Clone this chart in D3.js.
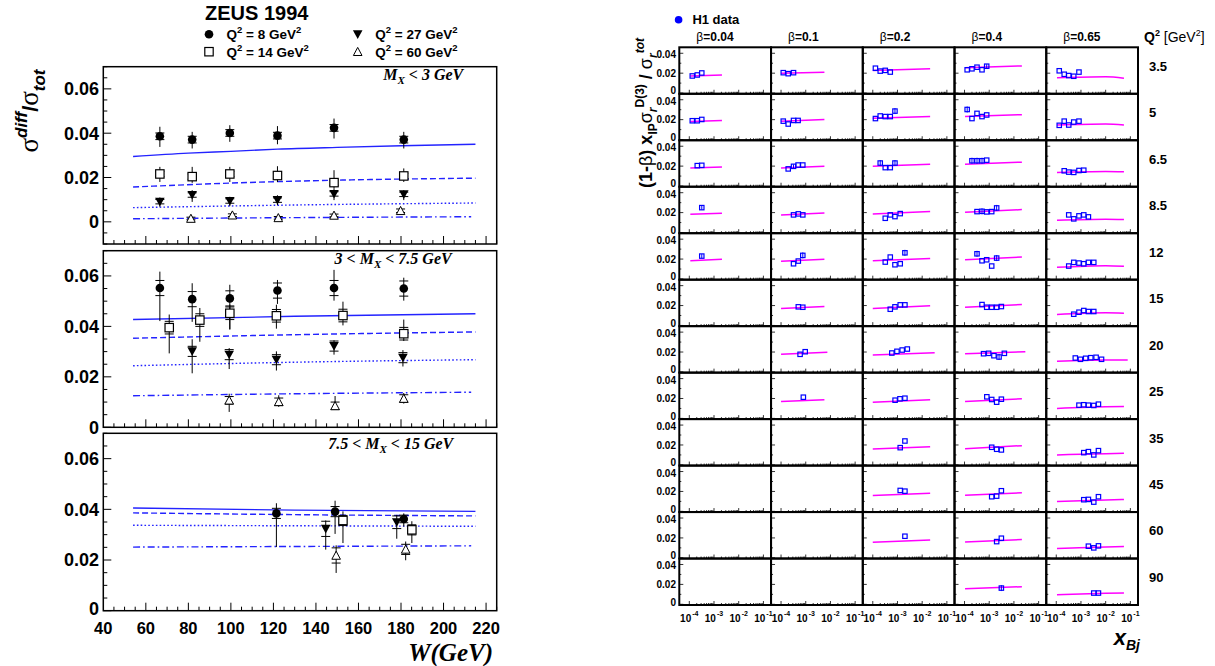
<!DOCTYPE html>
<html><head><meta charset="utf-8">
<script src="https://cdn.jsdelivr.net/npm/d3@7"></script>
<style>body{margin:0;background:#fff} svg{display:block}</style>
</head><body>
<svg id="c" width="1215" height="666"></svg>
<script>
// ================= DATA (left: ZEUS 1994) =================
const wTicks = [40,60,80,100,120,140,160,180,200,220];
const yTicksLeft = [0,0.02,0.04,0.06];
const q2Legend = ["8","14","27","60"];
const panelLabelPre = ["", "3 < ", "7.5 < "];
const panelLabelPost = [" < 3 GeV", " < 7.5 GeV", " < 15 GeV"];
// [W, value, statErr, totalLow, totalHigh]
const p1_q8  = [[66.6,0.0386,0.0015,0.0338,0.0429],[81.8,0.0371,0.0015,0.0331,0.0406],[99.5,0.0401,0.0015,0.0361,0.0436],[121.9,0.0389,0.0015,0.0350,0.0432],[148.5,0.0424,0.0015,0.0376,0.0466],[181.3,0.0371,0.0015,0.0331,0.0406]];
const p1_q14 = [[66.6,0.0216,0.0012,0.0180,0.0248],[81.8,0.0204,0.0012,0.0176,0.0248],[99.5,0.0216,0.0012,0.0180,0.0248],[121.9,0.0209,0.0012,0.0180,0.0251],[148.5,0.0177,0.0012,0.0150,0.0233],[181.3,0.0207,0.0012,0.0180,0.0241]];
const p1_q27 = [[66.6,0.0091,0.0010,0.0068,0.0110],[81.8,0.0121,0.0010,0.0090,0.0143],[99.5,0.0094,0.0010,0.0071,0.0113],[121.9,0.0098,0.0010,0.0075,0.0120],[148.5,0.0126,0.0010,0.0098,0.0150],[181.3,0.0124,0.0010,0.0098,0.0143]];
const p1_q60 = [[81.2,0.0015,0.0006,0.0008,0.0022],[100.7,0.0030,0.0006,0.0022,0.0038],[122.3,0.0018,0.0006,0.0010,0.0026],[148.5,0.0029,0.0006,0.0021,0.0037],[179.8,0.0050,0.0008,0.0038,0.0068]];
const p2_q8  = [[66.6,0.0552,0.003,0.0421,0.0617],[81.8,0.0508,0.003,0.0418,0.0571],[99.5,0.0511,0.003,0.0388,0.0565],[121.9,0.0542,0.003,0.0489,0.0584],[148.5,0.0552,0.003,0.0502,0.0624],[181.3,0.0550,0.003,0.0502,0.0593]];
const p2_q14 = [[71.0,0.0395,0.0025,0.0293,0.0447],[85.4,0.0425,0.0025,0.0339,0.0473],[99.5,0.0452,0.0025,0.0388,0.0486],[121.4,0.0442,0.0025,0.0391,0.0486],[152.7,0.0443,0.0025,0.0404,0.0498],[181.3,0.0371,0.0025,0.0342,0.0427]];
const p2_q27 = [[81.8,0.0301,0.002,0.0214,0.0349],[99.2,0.0288,0.002,0.0231,0.0314],[121.4,0.0268,0.002,0.0225,0.0301],[148.5,0.0322,0.002,0.0288,0.0345],[180.9,0.0276,0.002,0.0241,0.0306]];
const p2_q60 = [[99.2,0.0107,0.0015,0.0061,0.0133],[122.5,0.0101,0.0015,0.0081,0.0127],[149.0,0.0085,0.0015,0.0071,0.0124],[181.3,0.0114,0.0015,0.0094,0.0136]];
const p3_q8  = [[121.4,0.0384,0.002,0.0251,0.0424],[149.0,0.0391,0.002,0.0303,0.0434],[181.3,0.0362,0.0015,0.0332,0.0384]];
const p3_q14 = [[152.7,0.0356,0.002,0.0267,0.0392],[185.1,0.0319,0.002,0.0267,0.0353]];
const p3_q27 = [[144.6,0.0323,0.003,0.0241,0.0356],[178.0,0.0349,0.0025,0.0284,0.0378]];
const p3_q60 = [[149.5,0.0218,0.003,0.0149,0.0258],[182.2,0.0242,0.002,0.0199,0.0273]];
// model curves [W, value]
const p1_solid = [[54,0.0295],[80,0.0310],[100,0.0318],[122,0.0328],[150,0.0336],[180,0.0343],[215,0.0350]];
const p1_dash  = [[54,0.0157],[100,0.0175],[150,0.0188],[215,0.0197]];
const p1_dot   = [[54,0.0064],[130,0.0076],[215,0.0085]];
const p1_dashdot = [[54,0.0014],[130,0.0019],[213,0.0023]];
const p2_solid = [[54,0.0427],[130,0.0440],[215,0.0450]];
const p2_dash  = [[54,0.0353],[130,0.0367],[215,0.0378]];
const p2_dot   = [[54,0.0244],[130,0.0258],[215,0.0268]];
const p2_dashdot = [[54,0.0125],[130,0.0133],[213,0.0139]];
const p3_solid = [[54,0.0405],[130,0.0397],[215,0.0392]];
const p3_dash  = [[54,0.0386],[130,0.0379],[215,0.0374]];
const p3_dot   = [[54,0.0337],[215,0.0333]];
const p3_dashdot = [[54,0.0251],[213,0.0256]];

// ================= DATA (right: H1 grid) =================
const q2Labels = ["3.5","5","6.5","8.5","12","15","20","25","35","45","60","90"];
const betaLabels = ["0.04","0.1","0.2","0.4","0.65"];
const xDecades = [-4,-3,-2,-1];
const yTicksRight = [0,0.02,0.04];
// [Q2 row, beta column, xBj, value, error]
const h1Points = [
 [0,0,1.32e-4,0.0172],[0,0,2.1e-4,0.0182],[0,0,3.2e-4,0.0202],
 [0,1,1.23e-4,0.0205],[0,1,1.95e-4,0.0195],[0,1,3.2e-4,0.0205],
 [0,2,1.28e-4,0.0250],[0,2,2.0e-4,0.0221],[0,2,3.2e-4,0.0228],[0,2,5.1e-4,0.0211],
 [0,3,1.28e-4,0.0234],[0,3,2.0e-4,0.0244],[0,3,3.2e-4,0.0260],[0,3,5.1e-4,0.0234],[0,3,7.9e-4,0.0270,0.002],
 [0,4,1.32e-4,0.0224],[0,4,2.1e-4,0.0189],[0,4,3.2e-4,0.0176],[0,4,5.1e-4,0.0169],[0,4,8.3e-4,0.0211],
 [1,0,1.32e-4,0.0189],[1,0,2.1e-4,0.0189],[1,0,3.2e-4,0.0202],
 [1,1,1.23e-4,0.0185],[1,1,1.95e-4,0.0156],[1,1,3.2e-4,0.0192],[1,1,4.9e-4,0.0192],
 [1,2,1.28e-4,0.0211],[1,2,2.0e-4,0.0237],[1,2,3.2e-4,0.0231],[1,2,5.1e-4,0.0231],[1,2,7.9e-4,0.0286,0.003],
 [1,3,1.28e-4,0.0302,0.003],[1,3,2.0e-4,0.0211],[1,3,3.2e-4,0.0263],[1,3,5.1e-4,0.0231],[1,3,7.9e-4,0.0247],
 [1,4,1.32e-4,0.0143],[1,4,2.1e-4,0.0185],[1,4,3.2e-4,0.0146],[1,4,5.1e-4,0.0176],[1,4,8.3e-4,0.0185],
 [2,0,2.1e-4,0.0205],[2,0,3.2e-4,0.0208],
 [2,1,1.95e-4,0.0172],[2,1,3.2e-4,0.0198,0.002],[2,1,4.9e-4,0.0211],[2,1,7.6e-4,0.0211],
 [2,2,2.0e-4,0.0231,0.003],[2,2,3.2e-4,0.0185],[2,2,5.1e-4,0.0185],[2,2,7.9e-4,0.0231,0.003],
 [2,3,2.0e-4,0.0254,0.003],[2,3,3.2e-4,0.0254,0.003],[2,3,5.1e-4,0.0254,0.003],[2,3,7.9e-4,0.0260],
 [2,4,2.1e-4,0.0153],[2,4,3.2e-4,0.0140],[2,4,5.1e-4,0.0137],[2,4,8.3e-4,0.0156],[2,4,1.3e-3,0.0159],
 [3,0,3.2e-4,0.0250,0.002],
 [3,1,3.2e-4,0.0177],[3,1,5.0e-4,0.0187],[3,1,7.6e-4,0.0177],
 [3,2,3.2e-4,0.0143],[3,2,5.1e-4,0.0177],[3,2,7.9e-4,0.0160],[3,2,1.29e-3,0.0190],
 [3,3,3.2e-4,0.0210],[3,3,5.1e-4,0.0213,0.003],[3,3,7.9e-4,0.0207],[3,3,1.26e-3,0.0210],[3,3,2.0e-3,0.0247,0.003],
 [3,4,3.2e-4,0.0177],[3,4,5.1e-4,0.0137],[3,4,8.3e-4,0.0167],[3,4,1.3e-3,0.0177],[3,4,2.0e-3,0.0157],
 [4,0,3.2e-4,0.0230,0.002],
 [4,1,3.2e-4,0.0153],[4,1,5.0e-4,0.0180],[4,1,7.6e-4,0.0237,0.003],
 [4,2,3.2e-4,0.0170],[4,2,5.1e-4,0.0220],[4,2,7.9e-4,0.0143],[4,2,1.29e-3,0.0153],[4,2,2.0e-3,0.0263,0.003],
 [4,3,3.2e-4,0.0253,0.003],[4,3,5.1e-4,0.0183],[4,3,7.9e-4,0.0193],[4,3,1.26e-3,0.0130],[4,3,2.0e-3,0.0210,0.003],
 [4,4,3.2e-4,0.0130],[4,4,5.1e-4,0.0167],[4,4,8.3e-4,0.0160],[4,4,1.3e-3,0.0153],[4,4,2.0e-3,0.0167],[4,4,3.3e-3,0.0167],
 [5,1,5.0e-4,0.0187],[5,1,7.6e-4,0.0183],
 [5,2,5.1e-4,0.0163],[5,2,7.9e-4,0.0187],[5,2,1.29e-3,0.0207],[5,2,2.0e-3,0.0207],
 [5,3,5.1e-4,0.0210],[5,3,7.9e-4,0.0183],[5,3,1.26e-3,0.0183],[5,3,2.0e-3,0.0183],[5,3,3.1e-3,0.0190],
 [5,4,5.1e-4,0.0113],[5,4,8.3e-4,0.0133],[5,4,1.3e-3,0.0150],[5,4,2.0e-3,0.0140],[5,4,3.3e-3,0.0140],
 [6,1,5.9e-4,0.0177],[6,1,9.5e-4,0.0203],
 [6,2,5.9e-4,0.0190],[6,2,9.5e-4,0.0207],[6,2,1.55e-3,0.0220],[6,2,2.5e-3,0.0230],
 [6,3,5.9e-4,0.0183],[6,3,9.5e-4,0.0187],[6,3,1.55e-3,0.0163],[6,3,2.5e-3,0.0150,0.003],[6,3,4.1e-3,0.0187],
 [6,4,5.9e-4,0.0140],[6,4,9.5e-4,0.0127],[6,4,1.55e-3,0.0137],[6,4,2.5e-3,0.0143],[6,4,4.1e-3,0.0147],[6,4,6.8e-3,0.0127],
 [7,1,8.0e-4,0.0213],
 [7,2,8.0e-4,0.0183],[7,2,1.26e-3,0.0197],[7,2,2.0e-3,0.0203],
 [7,3,8.0e-4,0.0217],[7,3,1.26e-3,0.0190],[7,3,2.0e-3,0.0163],[7,3,3.1e-3,0.0193],
 [7,4,8.3e-4,0.0133],[7,4,1.3e-3,0.0137],[7,4,2.0e-3,0.0133],[7,4,3.3e-3,0.0130],[7,4,5.1e-3,0.0143],
 [8,2,1.29e-3,0.0173],[8,2,2.0e-3,0.0240],
 [8,3,1.26e-3,0.0177],[8,3,2.0e-3,0.0157],[8,3,3.1e-3,0.0150],
 [8,4,1.3e-3,0.0123],[8,4,2.0e-3,0.0133],[8,4,3.3e-3,0.0100],[8,4,5.1e-3,0.0143],
 [9,2,1.29e-3,0.0210],[9,2,2.0e-3,0.0203],
 [9,3,1.26e-3,0.0147],[9,3,2.0e-3,0.0153],[9,3,3.1e-3,0.0207],
 [9,4,1.3e-3,0.0117],[9,4,2.0e-3,0.0120],[9,4,3.3e-3,0.0093],[9,4,5.1e-3,0.0147],
 [10,2,2.0e-3,0.0217],
 [10,3,2.0e-3,0.0163],[10,3,3.1e-3,0.0197],
 [10,4,2.0e-3,0.0117],[10,4,3.3e-3,0.0100],[10,4,5.1e-3,0.0120],
 [11,3,3.1e-3,0.0163,0.003],
 [11,4,3.3e-3,0.0113],[11,4,5.1e-3,0.0113]
];
// [Q2 row, beta column, [[xBj, value], ...]]
const h1Model = [
 [0,0,[[1.1e-4,0.0172],[2.1e-3,0.0182]]],[0,1,[[1.0e-4,0.0199],[5.7e-3,0.0210]]],[0,2,[[1.0e-4,0.0228],[2.1e-2,0.0244]]],[0,3,[[1.05e-4,0.0254],[2.1e-2,0.0273]]],[0,4,[[1.07e-4,0.0153],[1e-2,0.0163],[5.5e-2,0.0150]]],
 [1,0,[[1.1e-4,0.0182],[2.1e-3,0.0192]]],[1,1,[[1.0e-4,0.0185],[5.7e-3,0.0202]]],[1,2,[[1.0e-4,0.0215],[2.1e-2,0.0231]]],[1,3,[[1.05e-4,0.0231],[2.1e-2,0.0250]]],[1,4,[[1.07e-4,0.0146],[1e-2,0.0156],[5.5e-2,0.0146]]],
 [2,0,[[1.1e-4,0.0182],[2.1e-3,0.0192]]],[2,1,[[1.0e-4,0.0182],[5.7e-3,0.0198]]],[2,2,[[1.0e-4,0.0198],[2.1e-2,0.0218]]],[2,3,[[1.05e-4,0.0218],[2.1e-2,0.0240]]],[2,4,[[1.07e-4,0.0137],[1e-2,0.0146],[5.5e-2,0.0143]]],
 [3,0,[[1.1e-4,0.0183],[2.1e-3,0.0193]]],[3,1,[[1.0e-4,0.0177],[5.7e-3,0.0197]]],[3,2,[[1.0e-4,0.0187],[2.1e-2,0.0210]]],[3,3,[[1.05e-4,0.0203],[2.1e-2,0.0230]]],[3,4,[[1.07e-4,0.0123],[1e-2,0.0133],[5.5e-2,0.0130]]],
 [4,0,[[1.1e-4,0.0183],[2.1e-3,0.0197]]],[4,1,[[1.0e-4,0.0177],[5.7e-3,0.0197]]],[4,2,[[1.0e-4,0.0183],[2.1e-2,0.0207]]],[4,3,[[1.05e-4,0.0193],[2.1e-2,0.0220]]],[4,4,[[1.07e-4,0.0117],[1e-2,0.0133],[5.5e-2,0.0127]]],
 [5,1,[[1.0e-4,0.0170],[5.7e-3,0.0190]]],[5,2,[[1.0e-4,0.0170],[2.1e-2,0.0197]]],[5,3,[[1.05e-4,0.0183],[2.1e-2,0.0210]]],[5,4,[[1.07e-4,0.0110],[1e-2,0.0127],[5.5e-2,0.0123]]],
 [6,1,[[1.0e-4,0.0177],[7.5e-3,0.0197]]],[6,2,[[1.0e-4,0.0170],[3.2e-2,0.0193]]],[6,3,[[1.05e-4,0.0183],[2.9e-2,0.0203]]],[6,4,[[1.07e-4,0.0107],[1e-2,0.0120],[7.8e-2,0.0120]]],
 [7,1,[[1.0e-4,0.0170],[5.7e-3,0.0187]]],[7,2,[[1.0e-4,0.0163],[2.1e-2,0.0187]]],[7,3,[[1.05e-4,0.0170],[2.1e-2,0.0197]]],[7,4,[[1.07e-4,0.0100],[1e-2,0.0117],[5.5e-2,0.0120]]],
 [8,2,[[1.0e-4,0.0160],[2.1e-2,0.0183]]],[8,3,[[1.05e-4,0.0163],[2.1e-2,0.0193]]],[8,4,[[1.07e-4,0.0100],[1e-2,0.0113],[5.5e-2,0.0117]]],
 [9,2,[[1.0e-4,0.0160],[2.1e-2,0.0183]]],[9,3,[[1.05e-4,0.0163],[2.1e-2,0.0187]]],[9,4,[[1.07e-4,0.0100],[1e-2,0.0113],[5.5e-2,0.0120]]],
 [10,2,[[1.0e-4,0.0157],[2.1e-2,0.0180]]],[10,3,[[1.05e-4,0.0160],[2.1e-2,0.0183]]],[10,4,[[1.07e-4,0.0093],[1e-2,0.0110],[5.5e-2,0.0113]]],
 [11,3,[[1.05e-4,0.0157],[2.1e-2,0.0177]]],[11,4,[[1.07e-4,0.0097],[1e-2,0.0110],[5.5e-2,0.0113]]]
];

// ================= DRAWING =================
const svg = d3.select("#c");
const SANS = "'Liberation Sans', Arial, Helvetica, sans-serif";
const SERIF = "'Liberation Serif', 'Times New Roman', serif";
const BLUE = "#2323ff";

function marker(g, type, cx, cy) {
  if (type === 0) g.append("circle").attr("cx",cx).attr("cy",cy).attr("r",4.3).attr("fill","#000");
  else if (type === 1) g.append("rect").attr("x",cx-4.2).attr("y",cy-4.2).attr("width",8.4).attr("height",8.4)
      .attr("fill","#fff").attr("stroke","#000").attr("stroke-width",1.2);
  else if (type === 2) g.append("path").attr("d",`M${cx-4.8},${cy-4}L${cx+4.8},${cy-4}L${cx},${cy+4.6}Z`).attr("fill","#000");
  else g.append("path").attr("d",`M${cx-4.3},${cy+3.8}L${cx+4.3},${cy+3.8}L${cx},${cy-4.3}Z`)
      .attr("fill","#fff").attr("stroke","#000").attr("stroke-width",1);
}

// ---- left panels ----
const xL = d3.scaleLinear().domain([40,225]).range([103.3,496.7]);
const panels = [
  {top:66.7, bottom:244, dom:[-0.01,0.07], lx:463.3, ly:80,
   series:[p1_q8,p1_q14,p1_q27,p1_q60], models:[p1_solid,p1_dash,p1_dot,p1_dashdot]},
  {top:250.7, bottom:427.3, dom:[0,0.07], lx:451.7, ly:264.3,
   series:[p2_q8,p2_q14,p2_q27,p2_q60], models:[p2_solid,p2_dash,p2_dot,p2_dashdot]},
  {top:433.3, bottom:610.7, dom:[0,0.07], lx:453.3, ly:449.3,
   series:[p3_q8,p3_q14,p3_q27,p3_q60], models:[p3_solid,p3_dash,p3_dot,p3_dashdot]}
];
const dashes = [null, "6,3", "1.6,2.2", "7,3,1.6,3"];

panels.forEach((p, pi) => {
  const g = svg.append("g");
  const y = d3.scaleLinear().domain(p.dom).range([p.bottom, p.top]);
  d3.range(45, 226, 5).forEach(w => {
    const major = w % 20 === 0;
    g.append("line").attr("x1",xL(w)).attr("x2",xL(w)).attr("y1",p.bottom).attr("y2",p.bottom-(major?8:4))
      .attr("stroke","#000").attr("stroke-width",1);
  });
  d3.range(Math.round(p.dom[0]*200), Math.round(p.dom[1]*200)+1).map(k => k/200).forEach(v => {
    const major = Math.abs(Math.round(v*1000) % 20) === 0;
    g.append("line").attr("x1",xL.range()[0]).attr("x2",xL.range()[0]+(major?8:4)).attr("y1",y(v)).attr("y2",y(v))
      .attr("stroke","#000").attr("stroke-width",1);
  });
  yTicksLeft.forEach(v => {
    g.append("text").attr("x",99).attr("y",y(v)).attr("dy",(pi===2 && v===0) ? "0.25em" : "0.36em").attr("text-anchor","end")
      .attr("font-family",SANS).attr("font-weight","bold").attr("font-size",18).text(v===0?"0":v.toFixed(2));
  });
  p.models.forEach((m, mi) => {
    g.append("path").attr("d", d3.line().x(d=>xL(d[0])).y(d=>y(d[1])).curve(d3.curveMonotoneX)(m))
      .attr("fill","none").attr("stroke",BLUE).attr("stroke-width",1.4)
      .attr("stroke-dasharray",dashes[mi]);
  });
  p.series.forEach((s, si) => {
    s.forEach(d => {
      const cx = xL(d[0]);
      g.append("line").attr("x1",cx).attr("x2",cx).attr("y1",y(d[3])).attr("y2",y(d[4])).attr("stroke","#000").attr("stroke-width",1);
      [d[1]-d[2], d[1]+d[2]].forEach(v => g.append("line").attr("x1",cx-4.5).attr("x2",cx+4.5).attr("y1",y(v)).attr("y2",y(v))
        .attr("stroke","#000").attr("stroke-width",1));
    });
    s.forEach(d => marker(g, si, xL(d[0]), y(d[1])));
  });
  g.append("rect").attr("x",xL.range()[0]).attr("y",p.top).attr("width",xL.range()[1]-xL.range()[0]).attr("height",p.bottom-p.top)
    .attr("fill","none").attr("stroke","#000").attr("stroke-width",1.5);
  const t = g.append("text").attr("x",p.lx).attr("y",p.ly).attr("text-anchor","end")
    .attr("font-family",SERIF).attr("font-style","italic").attr("font-weight","bold").attr("font-size",16);
  t.append("tspan").text(panelLabelPre[pi] + "M");
  t.append("tspan").attr("dy",4).attr("font-size",11).text("X");
  t.append("tspan").attr("dy",-4).text(panelLabelPost[pi]);
  if (pi === 2) {
    wTicks.forEach(w => g.append("text").attr("x",xL(w)).attr("y",634).attr("text-anchor","middle")
      .attr("font-family",SANS).attr("font-weight","bold").attr("font-size",16.5).text(w));
  }
});

// left axis titles
{
  const t = svg.append("text").attr("transform","translate(38,111) rotate(-90)").attr("text-anchor","middle")
    .attr("font-family",SANS).attr("font-weight","bold").attr("font-size",27);
  t.append("tspan").attr("font-family",SERIF).attr("font-weight","normal").text("σ");
  t.append("tspan").attr("dy",-11).attr("font-size",17).attr("font-style","italic").text("diff");
  t.append("tspan").attr("dy",11).attr("font-size",22).text("/");
  t.append("tspan").attr("font-family",SERIF).attr("font-weight","normal").text("σ");
  t.append("tspan").attr("dy",7).attr("font-size",17).attr("font-style","italic").text("tot");
  svg.append("text").attr("x",493).attr("y",661).attr("text-anchor","end")
    .attr("font-family",SERIF).attr("font-style","italic").attr("font-weight","bold").attr("font-size",25).text("W(GeV)");
}
// left legend
{
  svg.append("text").attr("x",205).attr("y",20).attr("font-family",SANS).attr("font-weight","bold").attr("font-size",20).text("ZEUS 1994");
  const pos = [[209,34.3],[209,51.7],[357.7,34.3],[357.7,51.7]];
  q2Legend.forEach((q, i) => {
    marker(svg, i, pos[i][0], pos[i][1]);
    const t = svg.append("text").attr("x",pos[i][0]+17.5).attr("y",pos[i][1]+5)
      .attr("font-family",SANS).attr("font-weight","bold").attr("font-size",13.5);
    t.append("tspan").text("Q");
    t.append("tspan").attr("dy",-6).attr("font-size",9.5).text("2");
    t.append("tspan").attr("dy",6).text(" = " + q + " GeV");
    t.append("tspan").attr("dy",-6).attr("font-size",9.5).text("2");
  });
}

// ---- right grid ----
const gx0 = 679.3, gx1 = 1138, gy0 = 47.3, gy1 = 605;
const colW = (gx1-gx0)/betaLabels.length, rowH = (gy1-gy0)/q2Labels.length;
const xLogDom = [Math.pow(10,-4.405), Math.pow(10,-0.691)];
function cellScales(r, c) {
  const x0 = gx0 + c*colW, y0 = gy0 + r*rowH;
  return {
    x: d3.scaleLog().domain(xLogDom).range([x0, x0+colW]),
    y: d3.scaleLinear().domain([0,0.046]).range([y0+rowH-0.7, y0]),
    x0, y0
  };
}
const grid = svg.append("g");
q2Labels.forEach((q, r) => {
  betaLabels.forEach((b, c) => {
    const s = cellScales(r, c);
    xDecades.forEach(k => {
      for (let m = 1; m < 10; m++) {
        const v = m * Math.pow(10,k);
        if (v < xLogDom[0] || v > xLogDom[1]) continue;
        grid.append("line").attr("x1",s.x(v)).attr("x2",s.x(v)).attr("y1",s.y0+rowH).attr("y2",s.y0+rowH-(m===1?4:2))
          .attr("stroke","#000").attr("stroke-width",0.8);
      }
    });
    [0,0.01,0.02,0.03,0.04].forEach(v => {
      grid.append("line").attr("x1",s.x0).attr("x2",s.x0+(Math.round(v*100)%2===0?4:2)).attr("y1",s.y(v)).attr("y2",s.y(v))
        .attr("stroke","#000").attr("stroke-width",0.8);
    });
    if (c === 0) {
      yTicksRight.forEach(v => grid.append("text").attr("x",676).attr("y",s.y(v))
        .attr("dy", v===0 ? "0.12em" : (v===0.04 ? "0.5em" : "0.36em")).attr("text-anchor","end")
        .attr("font-family",SANS).attr("font-weight","bold").attr("font-size",10).text(v===0?"0":v.toFixed(2)));
    }
    if (r === q2Labels.length-1) {
      xDecades.forEach(k => {
        const t = grid.append("text").attr("x",s.x(Math.pow(10,k))).attr("y",622).attr("text-anchor","middle")
          .attr("font-family",SANS).attr("font-weight","bold").attr("font-size",10);
        t.append("tspan").text("10");
        t.append("tspan").attr("dy",-6).attr("dx",1).attr("font-size",7).text(String(k));
      });
    }
  });
});
h1Model.forEach(([r, c, pts]) => {
  const s = cellScales(r, c);
  grid.append("path").attr("d", d3.line().x(d=>s.x(d[0])).y(d=>s.y(d[1])).curve(d3.curveMonotoneX)(pts))
    .attr("fill","none").attr("stroke","#ff00ff").attr("stroke-width",1.5);
});
h1Points.forEach(([r, c, xv, yv, e]) => {
  const s = cellScales(r, c);
  const cx = s.x(xv), cy = s.y(yv);
  if (e) grid.append("line").attr("x1",cx).attr("x2",cx).attr("y1",s.y(yv-e)).attr("y2",s.y(yv+e)).attr("stroke","#0000ff").attr("stroke-width",1);
  grid.append("rect").attr("x",cx-2.2).attr("y",cy-2.2).attr("width",4.4).attr("height",4.4)
    .attr("fill","none").attr("stroke","#0000ff").attr("stroke-width",1.2);
});
q2Labels.forEach((q, r) => betaLabels.forEach((b, c) => {
  const s = cellScales(r, c);
  grid.append("rect").attr("x",s.x0).attr("y",s.y0).attr("width",colW).attr("height",rowH)
    .attr("fill","none").attr("stroke","#000").attr("stroke-width",2);
}));
betaLabels.forEach((b, c) => {
  const t = svg.append("text").attr("x",gx0 + c*colW + 17).attr("y",41).attr("font-family",SANS).attr("font-weight","bold").attr("font-size",12);
  t.append("tspan").attr("font-weight","normal").text("β");
  t.append("tspan").text("=" + b);
});
q2Labels.forEach((q, r) => {
  svg.append("text").attr("x",1149).attr("y",gy0 + r*rowH + 23.4).attr("font-family",SANS).attr("font-weight","bold").attr("font-size",13).text(q);
});
{
  const t = svg.append("text").attr("x",1144).attr("y",41.7).attr("font-family",SANS).attr("font-size",14);
  t.append("tspan").attr("font-weight","bold").text("Q");
  t.append("tspan").attr("dy",-6).attr("font-size",9).attr("font-weight","bold").text("2");
  t.append("tspan").attr("dy",6).text(" [GeV");
  t.append("tspan").attr("dy",-6).attr("font-size",9).text("2");
  t.append("tspan").attr("dy",6).text("]");
  svg.append("circle").attr("cx",678.6).attr("cy",19.7).attr("r",3.8).attr("fill","#0000ff");
  svg.append("text").attr("x",692.4).attr("y",24).attr("font-family",SANS).attr("font-weight","bold").attr("font-size",13).text("H1 data");
  const yt = svg.append("text").attr("transform","translate(652,113) rotate(-90)").attr("text-anchor","middle")
    .attr("font-family",SANS).attr("font-weight","bold").attr("font-size",18);
  yt.append("tspan").text("(1-");
  yt.append("tspan").attr("font-weight","normal").text("β");
  yt.append("tspan").text(") x");
  yt.append("tspan").attr("dy",5).attr("font-size",12).text("IP");
  yt.append("tspan").attr("dy",-5).attr("font-weight","normal").text("σ");
  yt.append("tspan").attr("dy",5).attr("font-size",12).attr("font-style","italic").text("r");
  yt.append("tspan").attr("dy",-13).attr("font-size",12).text("D(3)");
  yt.append("tspan").attr("dy",8).text(" / ");
  yt.append("tspan").attr("font-weight","normal").text("σ");
  yt.append("tspan").attr("dy",5).attr("font-size",12).attr("font-style","italic").text("r");
  yt.append("tspan").attr("dy",-13).attr("font-size",12).attr("font-style","italic").text("tot");
  const xt = svg.append("text").attr("x",1140).attr("y",645).attr("text-anchor","end")
    .attr("font-family",SANS).attr("font-weight","bold").attr("font-style","italic").attr("font-size",22);
  xt.append("tspan").text("x");
  xt.append("tspan").attr("dy",5).attr("font-size",14).text("Bj");
}
</script>
</body></html>
